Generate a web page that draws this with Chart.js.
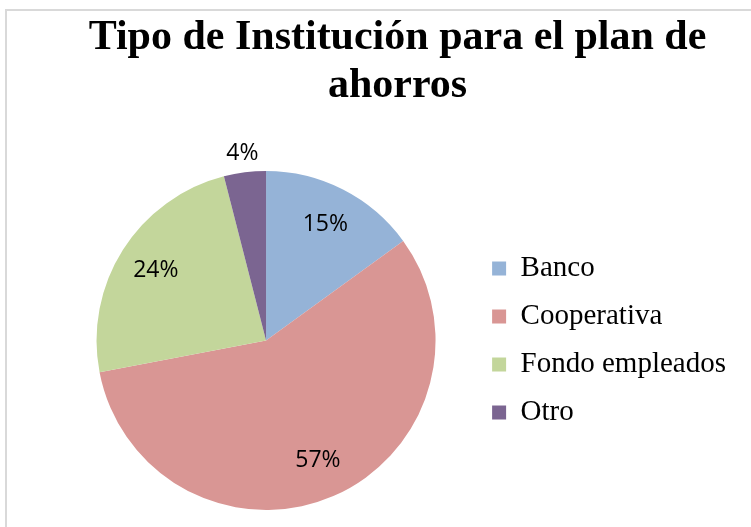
<!DOCTYPE html>
<html>
<head>
<meta charset="utf-8">
<script src="https://cdn.jsdelivr.net/npm/chart.js@4/dist/chart.umd.min.js"></script>
<style>
  html, body { margin: 0; padding: 0; background: #fff; overflow: hidden; }
  #wrap { position: relative; width: 751px; height: 527px; overflow: hidden; background: #fff; }
  #frame { position: absolute; left: 5px; top: 9px; width: 900px; height: 700px; border: 2px solid #D9D9D9; box-sizing: border-box; }
  #c { position: absolute; left: 0; top: 0; }
</style>
</head>
<body>
<div id="wrap">
  <div id="frame"></div>
  <canvas id="c" width="751" height="527"></canvas>
</div>
<script>
const titleLines = ['Tipo de Institución para el plan de', 'ahorros'];
const categories = ['Banco', 'Cooperativa', 'Fondo empleados', 'Otro'];
const percentages = [15, 57, 24, 4];
const sliceColors = ['#95B3D7', '#D99694', '#C3D69B', '#7B6591'];

const pieLabels = {
  id: 'pieLabels',
  afterDatasetsDraw(chart) {
    const ctx = chart.ctx;
    const meta = chart.getDatasetMeta(0);
    const data = chart.data.datasets[0].data;
    ctx.save();
    ctx.font = '23px "Open Sans"';
    ctx.fillStyle = '#000';
    ctx.textAlign = 'center';
    ctx.textBaseline = 'middle';
    meta.data.forEach((arc, i) => {
      const p = arc.getProps(['x', 'y', 'startAngle', 'endAngle', 'outerRadius'], true);
      const mid = (p.startAngle + p.endAngle) / 2;
      const span = p.endAngle - p.startAngle;
      const r = span < 0.5 ? p.outerRadius + 19 : p.outerRadius * 0.77;
      ctx.fillText(data[i] + '%', p.x + Math.cos(mid) * r, p.y + Math.sin(mid) * r);
    });
    ctx.restore();
  }
};

new Chart(document.getElementById('c'), {
  type: 'pie',
  data: {
    labels: categories,
    datasets: [{
      data: percentages,
      backgroundColor: sliceColors,
      borderWidth: 0
    }]
  },
  options: {
    responsive: false,
    animation: false,
    devicePixelRatio: 1,
    layout: { padding: { left: 59, right: 15, top: 0, bottom: 17 } },
    plugins: {
      title: {
        display: true,
        text: titleLines,
        color: '#000',
        font: { family: '"Liberation Serif", "Times New Roman", serif', size: 42, weight: 'bold', lineHeight: 1.143 },
        padding: { top: 14, bottom: 61 }
      },
      legend: {
        display: true,
        position: 'right',
        fullSize: false,
        align: 'center',
        labels: {
          color: '#000',
          font: { family: '"Liberation Serif", "Times New Roman", serif', size: 29 },
          boxWidth: 14,
          boxHeight: 14,
          padding: 19
        }
      },
      tooltip: { enabled: false }
    }
  },
  plugins: [pieLabels]
});
</script>
</body>
</html>
